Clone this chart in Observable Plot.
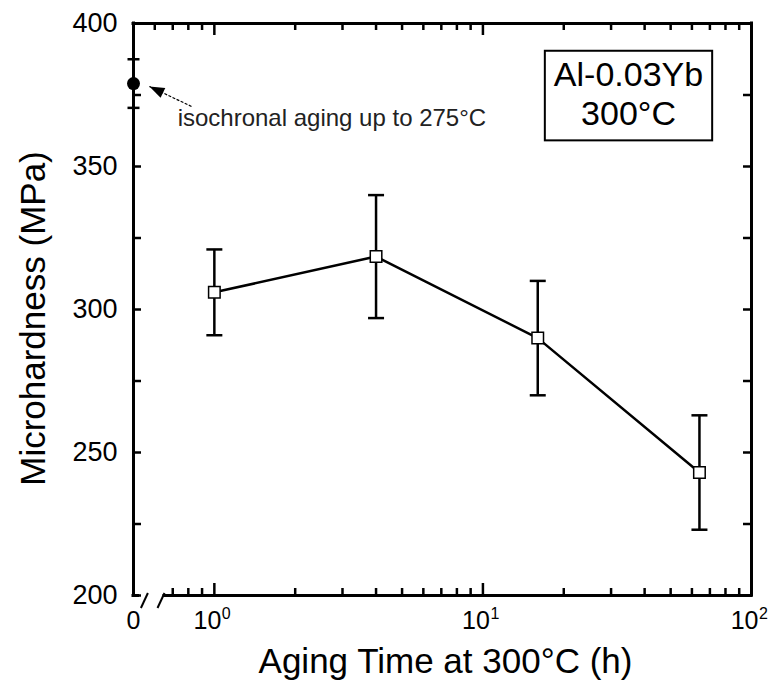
<!DOCTYPE html>
<html>
<head>
<meta charset="utf-8">
<script src="https://cdn.jsdelivr.net/npm/d3@7"></script>
<script src="https://cdn.jsdelivr.net/npm/@observablehq/plot@0.6"></script>
<style>
  body { margin: 0; background: #fff; }
  #chart svg { display: block; }
</style>
</head>
<body>
<div id="chart"></div>
<script>
// ---- data ----
const agingTime = [1, 4, 16, 64];            // h
const hardness = [306, 318.5, 290, 243];     // MPa
const hardnessErr = [15, 21.5, 20, 20];      // MPa
const isoHardness = [379];                   // after isochronal aging, plotted at "0"
const isoErr = [8.5];
const isoLabel = "0";
const yTicks = [200, 250, 300, 350, 400];
const yMinor = [225, 275, 325, 375];
const xMajor = [1, 10, 100];
const xExponents = ["0", "1", "2"];
const xMinorBottom = [0.7, 0.8, 0.9, 2, 3, 4, 5, 6, 7, 8, 9, 20, 30, 40, 50, 60, 70, 80, 90];
const xMinorTop = [0.6, ...xMinorBottom];
const boxLines = ["Al-0.03Yb", "300°C"];
const annText = "isochronal aging up to 275°C";
const xLabel = "Aging Time at 300°C (h)";
const yLabel = "Microhardness (MPa)";

// axis-break / annotation anchors in data units
const x0 = 0.5;                     // where the broken-axis "0" sits
const axisBreaks = [0.549, 0.633];
const bottomAxisStart = 0.652;
const footEnd = 0.52;
const annPos = {x: 0.73, y: 367};
const annArrow = {x1: 0.822, y1: 371, x2: 0.573, y2: 378};

// ---- layout ----
const W = 771, H = 692, mL = 133, mR = 20, mT = 23, mB = 97;
const innerW = W - mL - mR, innerH = H - mT - mB;
const xDomain = [x0, 100], yDomain = [200, 400];

const points = agingTime.map((t, i) => ({t, h: hardness[i], lo: hardness[i] - hardnessErr[i], hi: hardness[i] + hardnessErr[i]}));
const iso = isoHardness.map((h, i) => ({t: x0, h, lo: h - isoErr[i], hi: h + isoErr[i]}));

const sx = Plot.scale({x: {type: "log", domain: xDomain, range: [mL, W - mR]}});
const sy = Plot.scale({y: {type: "linear", domain: yDomain, range: [H - mB, mT]}});
const arrowAngle = Math.atan2(sy.apply(annArrow.y1) - sy.apply(annArrow.y2), sx.apply(annArrow.x1) - sx.apply(annArrow.x2)) * 180 / Math.PI;

const capSym = {draw(ctx, size) { const h = Math.sqrt(size / Math.PI); ctx.moveTo(-h, 0); ctx.lineTo(h, 0); }};
const slashSym = {draw(ctx) { ctx.moveTo(-3.5, 7.5); ctx.lineTo(3.5, -7.5); }};
const arrowSym = {draw(ctx) { ctx.moveTo(0, 0); ctx.lineTo(15, -5.5); ctx.lineTo(15, 5.5); ctx.closePath(); }};

const FW = 3, TW = 2.5;

const chart = Plot.plot({
  width: W, height: H,
  marginLeft: mL, marginRight: mR, marginTop: mT, marginBottom: mB,
  style: {fontFamily: "'Liberation Sans', Arial, Helvetica, sans-serif", background: "#fff", color: "#000"},
  x: {type: "log", domain: xDomain, axis: null},
  y: {domain: yDomain},
  marks: [
    // frame (bottom edge broken)
    Plot.ruleX([x0, 100], {x: d => d, strokeWidth: FW, strokeLinecap: "square"}),
    Plot.ruleY([400], {y: d => d, strokeWidth: FW, strokeLinecap: "square"}),
    Plot.ruleY([200], {y: d => d, x1: bottomAxisStart, x2: 100, strokeWidth: FW, strokeLinecap: "square"}),
    Plot.ruleY([200], {y: d => d, x1: x0, x2: footEnd, strokeWidth: FW, strokeLinecap: "square"}),
    Plot.dot(axisBreaks, {x: d => d, y: 200, dy: 5, r: 1, symbol: slashSym, stroke: "black", fill: "none", strokeWidth: 2}),

    // inward ticks
    Plot.tickY([...yTicks, ...yMinor], {y: d => d, insetRight: innerW - 8, strokeWidth: TW}),
    Plot.tickY([...yTicks, ...yMinor], {y: d => d, insetLeft: innerW - 8, strokeWidth: TW}),
    Plot.tickX(xMajor, {x: d => d, insetBottom: innerH - 12, strokeWidth: TW}),
    Plot.tickX(xMinorTop, {x: d => d, insetBottom: innerH - 7, strokeWidth: TW}),
    Plot.tickX(xMajor, {x: d => d, insetTop: innerH - 12, strokeWidth: TW}),
    Plot.tickX(xMinorBottom, {x: d => d, insetTop: innerH - 7, strokeWidth: TW}),

    // y tick labels
    Plot.axisY({ticks: yTicks, tickSize: 0, tickPadding: 16, fontSize: 27, label: null}),

    // x tick labels
    Plot.text([isoLabel], {x: x0, y: 200, text: d => d, dy: 25, fontSize: 25, lineAnchor: "middle"}),
    Plot.text(xMajor, {x: d => d, y: 200, text: () => "10", textAnchor: "end", dx: 7, dy: 25, fontSize: 25, lineAnchor: "middle"}),
    Plot.text(xMajor, {x: d => d, y: 200, text: (d, i) => xExponents[i], textAnchor: "start", dx: 7.5, dy: 18.5, fontSize: 16, lineAnchor: "middle"}),

    // error bars
    Plot.ruleX(points, {x: "t", y1: "lo", y2: "hi", strokeWidth: TW}),
    Plot.dot(points, {x: "t", y: "lo", r: 8, symbol: capSym, stroke: "black", fill: "none", strokeWidth: TW}),
    Plot.dot(points, {x: "t", y: "hi", r: 8, symbol: capSym, stroke: "black", fill: "none", strokeWidth: TW}),
    Plot.dot(iso, {x: "t", y: "lo", r: 6, symbol: capSym, stroke: "black", fill: "none", strokeWidth: TW}),
    Plot.dot(iso, {x: "t", y: "hi", r: 6, symbol: capSym, stroke: "black", fill: "none", strokeWidth: TW}),

    // series
    Plot.line(points, {x: "t", y: "h", strokeWidth: 2.5}),
    Plot.dot(points, {x: "t", y: "h", symbol: "square", r: 6.5, fill: "white", stroke: "black", strokeWidth: 1.5}),
    Plot.dot(iso, {x: "t", y: "h", r: 6.5, fill: "black", stroke: "none"}),

    // annotation
    Plot.link([annArrow], {x1: "x1", y1: "y1", x2: "x2", y2: "y2", strokeWidth: 1.2, strokeDasharray: "3,1.5"}),
    Plot.dot([annArrow], {x: "x2", y: "y2", r: 1, symbol: arrowSym, rotate: arrowAngle, fill: "black", stroke: "none"}),
    Plot.text([annText], {x: annPos.x, y: annPos.y, text: d => d, textAnchor: "start", lineAnchor: "middle", fontSize: 24, fill: "#222"}),

    // legend box text
    Plot.text([boxLines.join("\n")], {frameAnchor: "top-right", text: d => d, dx: -123, dy: 35, textAnchor: "middle", lineAnchor: "top", fontSize: 34, lineHeight: 1.15}),

    // axis titles
    Plot.text([yLabel], {frameAnchor: "left", text: d => d, rotate: -90, dx: -100, dy: 9, fontSize: 35, textAnchor: "middle", lineAnchor: "middle"}),
    Plot.text([xLabel], {frameAnchor: "bottom", text: d => d, dx: 3, dy: 66, fontSize: 35, textAnchor: "middle", lineAnchor: "middle"})
  ]
});

document.getElementById("chart").append(chart);

// rectangle around the label box, sized from the rendered text
const boxEl = Array.from(chart.querySelectorAll("text")).find(t => t.textContent.includes(boxLines[0]));
if (boxEl) {
  const r = boxEl.getBoundingClientRect();
  const s = chart.getBoundingClientRect();
  const padX = 9, padTop = 4.5, padBottom = 8;
  const ns = "http://www.w3.org/2000/svg";
  const rect = document.createElementNS(ns, "rect");
  rect.setAttribute("x", r.left - s.left - padX);
  rect.setAttribute("y", r.top - s.top - padTop);
  rect.setAttribute("width", r.width + 2 * padX);
  rect.setAttribute("height", r.height + padTop + padBottom);
  rect.setAttribute("fill", "none");
  rect.setAttribute("stroke", "black");
  rect.setAttribute("stroke-width", 2);
  chart.appendChild(rect);
}
</script>
</body>
</html>
